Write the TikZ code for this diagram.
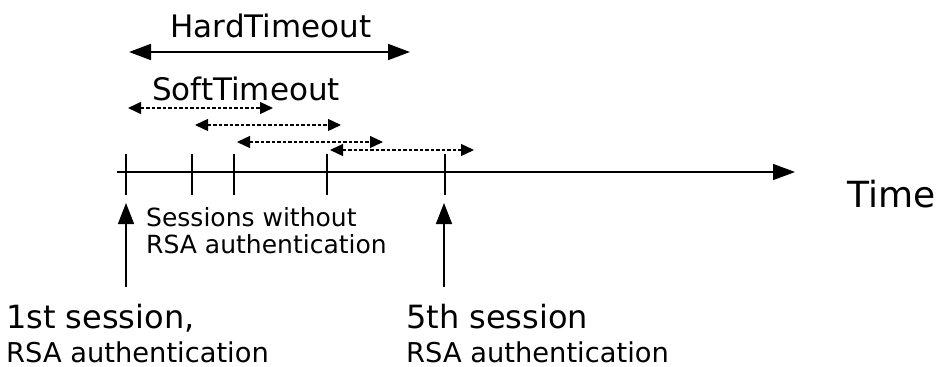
\documentclass[tikz,border=0pt]{standalone}
\usepackage{fontspec}
\setmainfont{DejaVu Sans}
\usetikzlibrary{arrows.meta}

\tikzset{
	eixo/.style   = {line width = 1.5pt, -{Triangle[length = 22pt, width = 16pt]}},
	marca/.style  = {line width = 1.4pt},
	hard/.style   = {line width = 2pt, {Triangle[length = 22pt, width = 16pt]}-{Triangle[length = 22pt, width = 16pt]}},
	soft/.style   = {line width = 1.3pt, dash pattern = on 3.5pt off 2pt, {Triangle[length = 13pt, width = 12pt]}-{Triangle[length = 13pt, width = 12pt]}},
	sessao/.style = {line width = 1.5pt, -{Triangle[length = 21pt, width = 16pt]}},
	rotulo/.style = {inner sep = 0pt, anchor = base west}
}

\begin{document}
\begin{tikzpicture}[x = 1pt, y = -1pt]

	\useasboundingbox (0, 0) rectangle (938, 367);

	%%% EIXO DO TEMPO %%%

	\coordinate (inicio) at (117, 172);
	\coordinate (fim)    at (795, 172);
	\draw[eixo] (inicio) -- (fim);

	\node[rotulo] (tempo) at (847, 207) {\fontsize{36}{40}\selectfont Time};

	\foreach \n/\x in {1/126, 2/192, 3/234, 4/327, 5/445}{
		\coordinate (t\n) at (\x, 172);
		\draw[marca] (\x, 154) -- (\x, 195);
	}

	%%% TIMEOUTS %%%

	\coordinate (h1) at (129, 52);
	\coordinate (h2) at (410, 52);
	\draw[hard] (h1) -- (h2);
	\node[inner sep = 0pt, anchor = base] (hard) at (271, 37) {\fontsize{31}{36}\selectfont HardTimeout};

	\node[inner sep = 0pt, anchor = base] (soft) at (246, 100) {\fontsize{31}{36}\selectfont SoftTimeout};

	\coordinate (s1a) at (128, 108);  \coordinate (s1b) at (273, 108);
	\coordinate (s2a) at (195, 125);  \coordinate (s2b) at (341, 125);
	\coordinate (s3a) at (237, 142);  \coordinate (s3b) at (383, 142);
	\coordinate (s4a) at (330, 150);  \coordinate (s4b) at (474, 150);

	\draw[soft] (s1a) -- (s1b);
	\draw[soft] (s2a) -- (s2b);
	\draw[soft] (s3a) -- (s3b);
	\draw[soft] (s4a) -- (s4b);

	%%% SESSOES %%%

	\coordinate (p1) at (126, 287);
	\coordinate (q1) at (126, 203);
	\coordinate (p5) at (444, 287);
	\coordinate (q5) at (444, 203);
	\draw[sessao] (p1) -- (q1);
	\draw[sessao] (p5) -- (q5);

	\node[rotulo] (semrsa1) at (146, 226) {\fontsize{25}{28}\selectfont Sessions without};
	\node[rotulo] (semrsa2) at (146, 253) {\fontsize{25}{28}\selectfont RSA authentication};

	\node[rotulo] (prim1) at (6, 328) {\fontsize{32}{36}\selectfont 1st session,};
	\node[rotulo] (prim2) at (6, 362) {\fontsize{27.3}{30}\selectfont RSA authentication};

	\node[rotulo] (quin1) at (406, 328) {\fontsize{32}{36}\selectfont 5th session};
	\node[rotulo] (quin2) at (406, 362) {\fontsize{27.3}{30}\selectfont RSA authentication};

\end{tikzpicture}
\end{document}
